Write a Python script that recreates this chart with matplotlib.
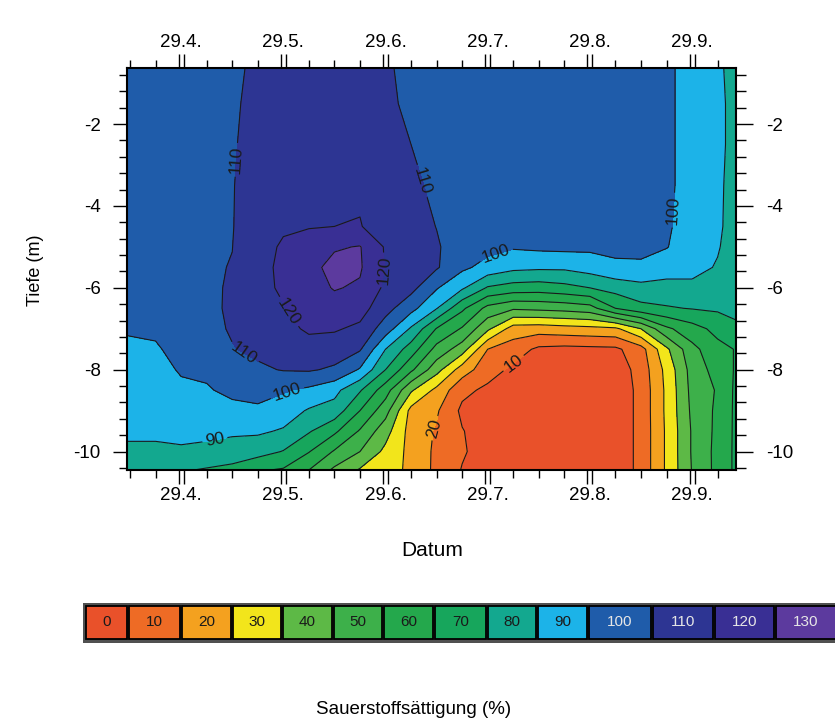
import numpy as np
import matplotlib
matplotlib.use("Agg")
import matplotlib.pyplot as plt
from matplotlib.patches import Rectangle
from matplotlib.ticker import MultipleLocator, FixedLocator, NullFormatter

plt.rcParams['font.family'] = ['Liberation Sans', 'DejaVu Sans']
plt.rcParams['axes.unicode_minus'] = False

# ---------------- data ----------------
# x axis in months (4 = 29.4., 5 = 29.5., ...)
dates = [3.47, 3.75, 4.0, 4.25, 4.5, 4.75, 5.0, 5.25, 5.5, 5.75, 6.0, 6.25, 6.5,
         6.75, 7.0, 7.25, 7.5, 7.75, 8.0, 8.25, 8.5, 8.75, 9.0, 9.25, 9.43]
depths = [-0.63, -1.5, -2.5, -3.5, -4.5, -5.0, -5.5, -6.0, -6.5, -7.0, -7.5,
          -8.0, -8.5, -9.0, -9.5, -10.0, -10.45]

month_ticks = [4, 5, 6, 7, 8, 9]
month_labels = ['29.4.', '29.5.', '29.6.', '29.7.', '29.8.', '29.9.']
depth_ticks = [-2, -4, -6, -8, -10]
depth_labels = ['-2', '-4', '-6', '-8', '-10']
levels = list(range(0, 150, 10))
legend_labels = [str(v) for v in levels[:-1]]
band_colors = ['#E9512A', '#EE6B25', '#F4A11F', '#F2E51B', '#5DB946', '#3DB04A',
               '#24A84C', '#17A65C', '#13A88F', '#1CB3E8', '#1F5CAA', '#2D3593',
               '#392F94', '#5C3A9E']

# oxygen saturation profiles (%), one per date, top to bottom
sat_c00 = [105, 105, 106, 106, 106, 106, 105, 104, 102, 101, 98, 96, 94, 92, 91, 89, 88]
sat_c01 = [105, 106, 106, 107, 107, 106, 106, 105, 103, 101.5, 99, 96.5, 94.5, 93, 91, 89, 86]
sat_c02 = [106, 107, 107, 108, 108, 108, 107, 107, 106, 105, 103, 101, 98, 95, 92, 89, 81]
sat_c03 = [107, 108, 108, 109, 109, 109, 109, 109, 108.5, 107, 104, 102, 99, 95, 92, 88, 79]
sat_c04 = [109, 109, 109, 109.5, 109.6, 109.9, 110.3, 110.6, 111, 111, 109.5, 106, 102.5, 97, 91.5, 86, 77]
sat_c05 = [111, 112, 114, 115, 116, 117, 117, 117, 116, 114.5, 112, 108.5, 104, 98, 91.5, 84, 71]
sat_c06 = [113, 114, 115, 117, 119, 121, 122, 121.5, 119.5, 117, 113.5, 110.5, 101, 95, 89, 79.5, 69]
sat_c07 = [114, 115, 116, 118, 119.5, 124, 127, 127, 125, 121.5, 116, 111, 98, 89, 81, 70.5, 60]
sat_c08 = [115, 116, 117, 119, 120, 129, 133, 130.5, 127, 121, 115, 108.5, 93, 86, 72, 59, 48]
sat_c09 = [115, 116, 118, 119, 120.3, 130.5, 131, 129, 124, 118, 111, 99, 81, 70, 59, 50, 39]
sat_c10 = [111, 111, 112, 114, 117, 119, 119.5, 118, 113.5, 105, 90, 80, 64.5, 54, 44, 37.5, 34]
sat_c11 = [108, 109, 110, 112, 114, 115, 115, 113, 103.3, 88.7, 75.3, 62, 41.4, 27, 26, 27, 28]
sat_c12 = [106, 106, 107, 108, 109.8, 111, 111, 100.8, 90.5, 69.4, 56.7, 43.8, 27.3, 21.2, 19, 18, 17.5]
sat_c13 = [104, 105, 105, 106, 106, 105, 102, 91.5, 72, 59, 45, 25, 12.5, 8, 10.5, 11, 9.5]
sat_c14 = [104, 104, 105, 105, 104, 103, 96.7, 79, 56.9, 42, 20, 14.1, 8, 5, 5, 6, 6]
sat_c15 = [104, 104, 104, 104, 103, 101, 92.6, 75.8, 51.4, 25.4, 15, 8, 5, 3, 3, 3, 3]
sat_c16 = [104, 104.5, 104.5, 104.5, 103.5, 102, 91.8, 75, 52.5, 24.5, 8, 5, 3, 3, 3, 3, 3]
sat_c17 = [104, 105, 105, 105, 104, 102.5, 91.8, 77, 53.7, 26, 7, 4, 3, 3, 3, 3, 3]
sat_c18 = [104, 105, 105, 105.5, 104.5, 102, 94.5, 80, 56, 27, 7.5, 4, 3, 3, 3, 3, 3]
sat_c19 = [104, 105, 105, 105, 104, 102.5, 98, 84, 70, 28, 8, 4, 3, 3, 3, 3, 3]
sat_c20 = [104, 105, 105, 105, 104, 103, 98, 87, 77, 40, 16, 14, 13, 13, 13, 13, 13]
sat_c21 = [102, 102, 102, 102, 101.5, 100.5, 94, 87, 79, 58, 38, 33, 32, 32, 31.5, 31.5, 31.5]
sat_c22 = [96, 96, 96, 96, 95, 94, 92, 88.5, 80.5, 66, 57, 54, 53, 52, 51, 51, 50.5]
sat_c23 = [91, 91.5, 91.5, 91, 91, 90.5, 89.5, 86, 81.5, 73, 67, 64, 61, 62, 62.5, 63, 63]
sat_c24 = [88, 88, 88, 88, 87.5, 87, 86, 84, 82, 78.5, 70.5, 71, 72, 72, 72, 72, 72]

profiles = [sat_c00, sat_c01, sat_c02, sat_c03, sat_c04, sat_c05, sat_c06, sat_c07,
            sat_c08, sat_c09, sat_c10, sat_c11, sat_c12, sat_c13, sat_c14, sat_c15,
            sat_c16, sat_c17, sat_c18, sat_c19, sat_c20, sat_c21, sat_c22, sat_c23,
            sat_c24]
Z = np.array(profiles).T

label_levels = [10, 20, 90, 100, 110, 120]
plain_levels = [v for v in levels[1:-1] if v not in label_levels]

# ---------------- figure ----------------
W, H = 835, 724
fig = plt.figure(figsize=(W / 100, H / 100), dpi=100)
ax = fig.add_axes([127 / W, 1 - 470 / H, 609 / W, 402 / H])

ax.contourf(dates, depths, Z, levels=levels, colors=band_colors)
ax.contour(dates, depths, Z, levels=plain_levels, colors='#1a1a1a', linewidths=0.8)
cs = ax.contour(dates, depths, Z, levels=label_levels, colors='#1a1a1a', linewidths=0.8)

label_pos = [(4.577, -2.88), (6.387, -3.37), (5.037, -6.61), (5.976, -5.56),
             (4.607, -7.63), (5.037, -8.54), (7.09, -5.24), (8.80, -4.10),
             (4.33, -9.71), (7.25, -7.83), (6.44, -9.39)]
ax.clabel(cs, manual=label_pos, inline=True, fontsize=12.5, fmt='%d',
          inline_spacing=3)

ax.set_xlim(dates[0], dates[-1])
ax.set_ylim(depths[-1], depths[0])

for s in ax.spines.values():
    s.set_linewidth(1.5)
    s.set_color('black')

# x ticks: double tick at each month, weekly minor ticks
double_ticks = []
for m in month_ticks:
    double_ticks += [m - 0.025, m + 0.025]
weekly = [m + f for m in range(3, 10) for f in (0.25, 0.5, 0.75)
          if dates[0] < m + f < dates[-1]]
ax.xaxis.set_major_locator(FixedLocator(double_ticks))
ax.xaxis.set_major_formatter(NullFormatter())
ax.xaxis.set_minor_locator(FixedLocator(weekly))
ax.tick_params(axis='x', which='major', direction='out', length=10, width=1,
               top=True, bottom=True)
ax.tick_params(axis='x', which='minor', direction='out', length=5.8, width=1,
               top=True, bottom=True)

for loc, pad in (('bottom', 12), ('top', 12)):
    sec = ax.secondary_xaxis(loc)
    sec.set_xticks(month_ticks)
    sec.set_xticklabels(month_labels)
    sec.tick_params(length=0, pad=pad, labelsize=13.5)
    sec.spines[loc].set_visible(False)

# left y axis
ax.set_yticks(depth_ticks)
ax.set_yticklabels(depth_labels)
ax.yaxis.set_minor_locator(MultipleLocator(0.4))
ax.tick_params(axis='y', which='major', direction='out', length=10, width=1,
               left=True, right=False, labelleft=True, labelright=False,
               labelsize=13.5, pad=9)
ax.tick_params(axis='y', which='minor', direction='out', length=5.8, width=1,
               left=True, right=False)

# right y axis
secy = ax.secondary_yaxis('right')
secy.set_yticks(depth_ticks)
secy.set_yticklabels(depth_labels)
secy.yaxis.set_minor_locator(MultipleLocator(0.4))
secy.tick_params(axis='y', which='major', direction='out', length=12, width=1,
                 labelsize=13.5, pad=10)
secy.tick_params(axis='y', which='minor', direction='out', length=7, width=1)
secy.spines['right'].set_visible(False)

fig.text(432 / W, 1 - 551 / H, 'Datum', ha='center', va='center', fontsize=15)
fig.text(35 / W, 1 - 270 / H, 'Tiefe (m)', ha='center', va='center',
         fontsize=13, rotation=90)

# ---------------- legend bar ----------------
cax = fig.add_axes([0, 1 - 646 / H, 1, 46 / H])
cax.set_xlim(0, W)
cax.set_ylim(646, 600)
cax.axis('off')
box_edges = [85, 128, 181, 232, 282, 333, 383, 434, 487, 537, 588, 652, 714, 775, 837]
cax.add_patch(Rectangle((box_edges[0] - 2, 603), box_edges[-1] - box_edges[0] + 4, 40,
                        facecolor='#505050', edgecolor='none', clip_on=False))
for i, (lab, col) in enumerate(zip(legend_labels, band_colors)):
    x0, x1 = box_edges[i], box_edges[i + 1]
    cax.add_patch(Rectangle((x0 + 1, 606), x1 - x0 - 2, 33, facecolor=col,
                            edgecolor='black', linewidth=1.3, clip_on=False))
    tc = '#e6e6e6' if int(lab) >= 100 else '#1a1a1a'
    cax.text((x0 + x1) / 2, 622.5, lab, ha='center', va='center', fontsize=11,
             color=tc)

fig.text(414 / W, 1 - 710 / H, 'Sauerstoffsättigung (%)', ha='center',
         va='center', fontsize=13.5)

fig.savefig('out.png', dpi=100)
